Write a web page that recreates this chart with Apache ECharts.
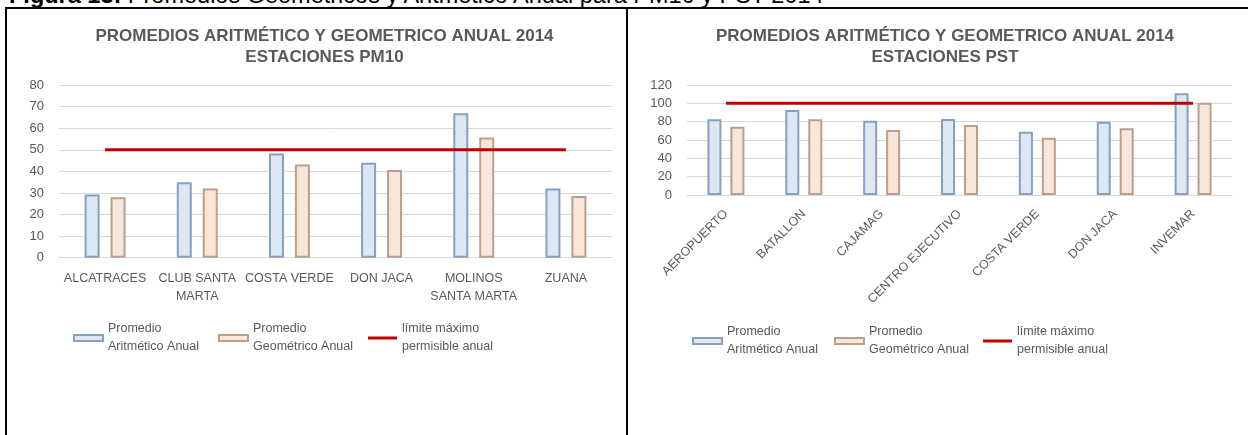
<!DOCTYPE html>
<html>
<head>
<meta charset="utf-8">
<script src="https://cdn.jsdelivr.net/npm/echarts@6/dist/echarts.min.js"></script>
<style>
  html, body { margin: 0; padding: 0; background: #fff; overflow: hidden; }
  body { width: 1248px; height: 435px; position: relative; font-family: 'Liberation Sans', sans-serif; }
  .caption { position: absolute; left: 9px; top: -16px; font-size: 23.5px; line-height: 23.5px; color: #000; white-space: nowrap; }
  .bline { position: absolute; background: #000; }
  .chart { position: absolute; top: 9px; height: 426px; }
</style>
</head>
<body>
<div class="caption"><b>Figura 13:</b> Promedios Geométricos y Aritmético Anual para PM10 y PST 2014</div>
<div class="bline" style="left:5px; top:7px; width:1243px; height:2px;"></div>
<div class="bline" style="left:5px; top:7px; width:2px; height:428px;"></div>
<div class="bline" style="left:626px; top:7px; width:2px; height:428px;"></div>
<div id="pm10" class="chart" style="left:8px; width:633px;"></div>
<div id="pst" class="chart" style="left:628px; width:634px;"></div>
<script>
// PM10
const pm10Stations = ['ALCATRACES', 'CLUB SANTA\nMARTA', 'COSTA VERDE', 'DON JACA', 'MOLINOS\nSANTA MARTA', 'ZUANA']
const pm10Arit = [29.3, 34.9, 48.3, 44.0, 66.9, 32.1]
const pm10Geom = [28.0, 32.1, 43.2, 40.6, 55.7, 28.6]
const pm10Limit = [50, 50, 50, 50, 50, 50]

// PST
const pstStations = ['AEROPUERTO', 'BATALLON', 'CAJAMAG', 'CENTRO EJECUTIVO', 'COSTA VERDE', 'DON JACA', 'INVEMAR']
const pstArit = [82.6, 92.7, 81.1, 82.9, 69.1, 80.0, 110.9]
const pstGeom = [74.5, 82.6, 70.9, 76.4, 62.5, 72.7, 100.7]
const pstLimit = [100, 100, 100, 100, 100, 100, 100]

const seriesNames = ['Promedio\nAritmético Anual', 'Promedio\nGeométrico Anual', 'límite máximo\npermisible anual']

const FONT = "'Liberation Sans', Arial, sans-serif"
const TXT = '#595959'

function legendAt(i, left, top) {
  const isLine = i === 2
  return {
    data: [{ name: seriesNames[i], icon: 'rect' }],
    left, top,
    padding: 0,
    itemWidth: 29,
    itemHeight: isLine ? 3 : 6,
    itemGap: 0,
    textStyle: { fontFamily: FONT, fontSize: 12.5, color: TXT, lineHeight: 18, padding: [18, 0, 0, 0] }
  }
}

function buildOption(cfg) {
  return {
    animation: false,
    title: {
      text: cfg.title,
      left: 'center',
      top: 12,
      textStyle: { fontFamily: FONT, fontSize: 17, fontWeight: 'bold', color: TXT, lineHeight: 21 }
    },
    legend: cfg.legendLefts.map((l, i) => legendAt(i, l, cfg.legendTop)),
    grid: { left: cfg.grid[0], right: cfg.grid[1], top: 76, height: cfg.grid[2] },
    xAxis: {
      type: 'category',
      data: cfg.cats,
      axisTick: { show: false },
      axisLine: { lineStyle: { color: '#d9d9d9', width: 1 } },
      axisLabel: {
        fontFamily: FONT, fontSize: 12.5, color: TXT, lineHeight: 18,
        interval: 0, rotate: cfg.rotate, margin: cfg.rotate ? 17 : 12
      }
    },
    yAxis: {
      type: 'value',
      min: 0, max: cfg.max, interval: cfg.interval,
      axisLine: { show: false },
      axisTick: { show: false },
      splitLine: { lineStyle: { color: '#d9d9d9', width: 1 } },
      axisLabel: { fontFamily: FONT, fontSize: 13, color: TXT, margin: 15 }
    },
    series: [
      {
        name: seriesNames[0], type: 'bar', data: cfg.arit,
        barWidth: cfg.barWidth, barGap: cfg.barGap,
        itemStyle: { color: '#dde8f4', borderColor: '#86a0bd', borderWidth: 2 }
      },
      {
        name: seriesNames[1], type: 'bar', data: cfg.geom,
        barWidth: cfg.barWidth, barGap: cfg.barGap,
        itemStyle: { color: '#f9e6da', borderColor: '#bb9f8d', borderWidth: 2 }
      },
      {
        name: seriesNames[2], type: 'line', data: cfg.limit,
        symbol: 'none',
        lineStyle: { color: '#c00000', width: 3 },
        itemStyle: { color: '#c00000' },
        z: 5
      }
    ]
  }
}

const pm10Chart = echarts.init(document.getElementById('pm10'))
pm10Chart.setOption(buildOption({
  title: 'PROMEDIOS ARITMÉTICO Y GEOMETRICO ANUAL 2014\nESTACIONES PM10',
  cats: pm10Stations, arit: pm10Arit, geom: pm10Geom, limit: pm10Limit,
  max: 80, interval: 10,
  grid: [51, 29, 172.7],
  rotate: 0,
  barWidth: 15, barGap: '73%',
  legendLefts: [65, 210, 360], legendTop: 302
}))

const pstChart = echarts.init(document.getElementById('pst'))
pstChart.setOption(buildOption({
  title: 'PROMEDIOS ARITMÉTICO Y GEOMETRICO ANUAL 2014\nESTACIONES PST',
  cats: pstStations, arit: pstArit, geom: pstGeom, limit: pstLimit,
  max: 120, interval: 20,
  grid: [59, 30, 110],
  rotate: 45,
  barWidth: 14, barGap: '64%',
  legendLefts: [64, 206, 355], legendTop: 305
}))
</script>
</body>
</html>
